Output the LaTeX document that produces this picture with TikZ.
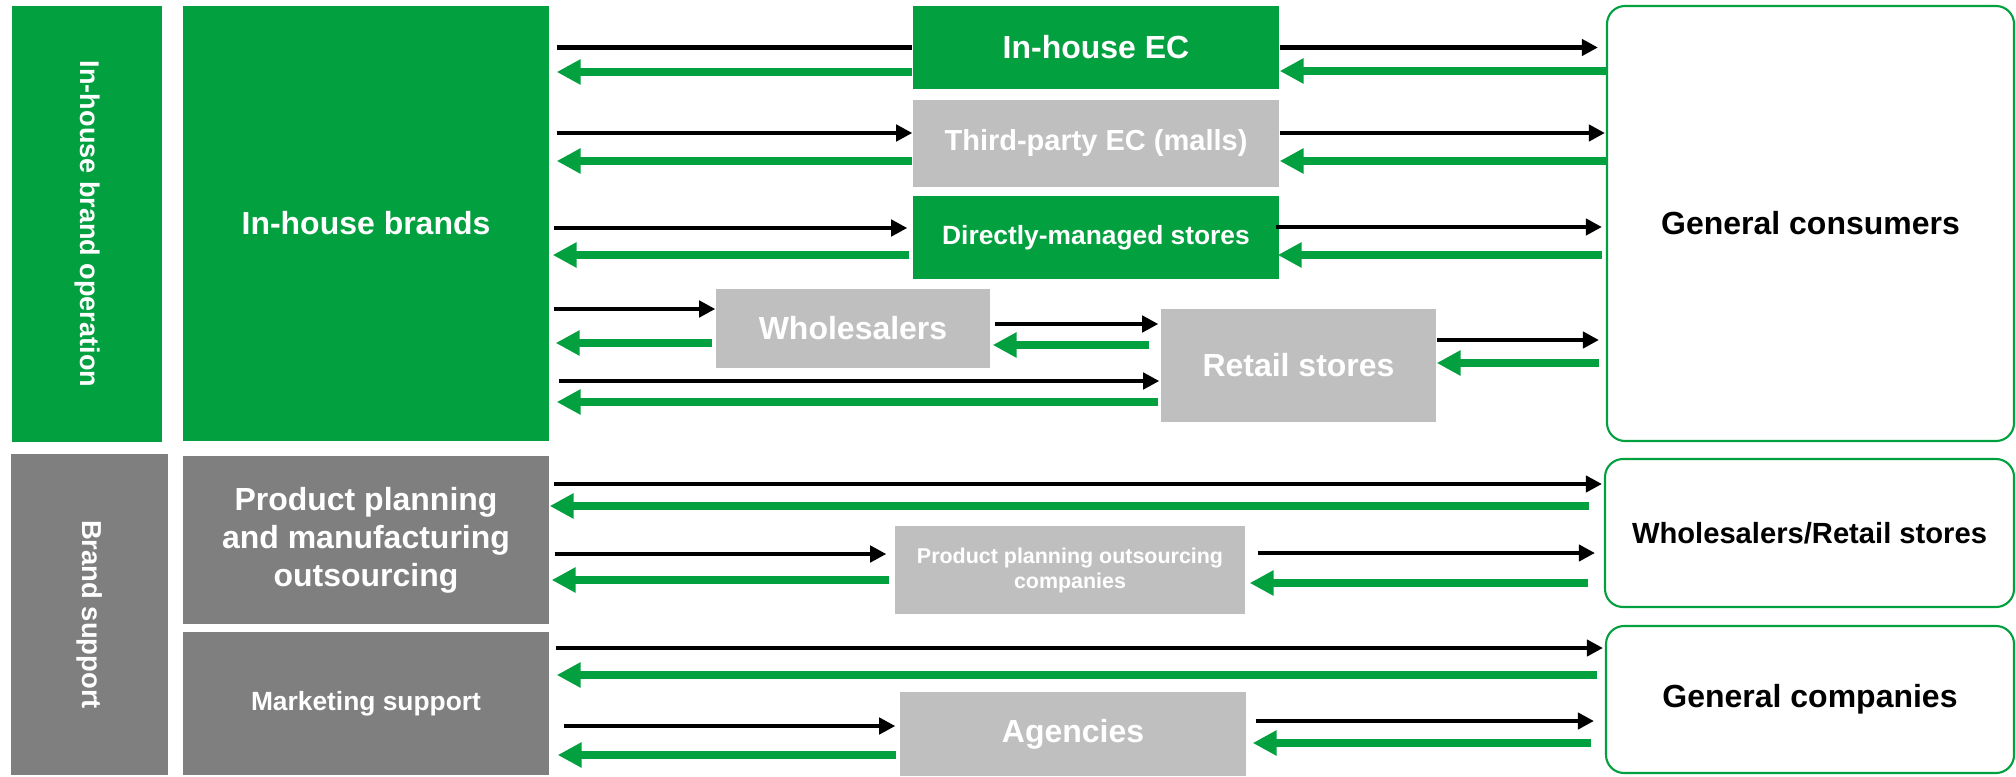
\documentclass[tikz,border=0pt]{standalone}
\usepackage{fontspec}
\setmainfont{Liberation Sans}
\usetikzlibrary{arrows.meta,calc,positioning}
\definecolor{bgreen}{RGB}{3,160,64}
\definecolor{dgray}{RGB}{127,127,127}
\definecolor{lgray}{RGB}{191,191,191}
\newcommand{\fs}[2]{\bfseries\fontsize{#1}{#2}\selectfont}

\begin{document}
\begin{tikzpicture}
  [box/.style={rectangle,inner sep=0pt,text=white,align=center,font=\fs{9.1}{11}},
  greenbox/.style={box,fill=bgreen},
  darkbox/.style={box,fill=dgray},
  greybox/.style={box,fill=lgray},
  endbox/.style={rectangle,rounded corners=0.18cm,draw=bgreen,line width=0.6pt,inner sep=0pt,align=center,font=\fs{9.1}{11}},
  blk/.style={draw=black,line width=1.15pt,-{Triangle[length=4.6pt,width=4.6pt]}},
  grn/.style={draw=bgreen,line width=2.1pt,-{Triangle[length=6.8pt,width=6.8pt]}}]
  \useasboundingbox (0,0) rectangle (20.16,7.76);

  \node[greenbox,rotate=-90,minimum width=4.36cm,minimum height=1.505cm,font=\fs{7.7}{9}] (ops) at (0.87,5.52) {In-house brand operation};
  \node[greenbox,minimum width=3.66cm,minimum height=4.35cm] (brands) at (3.66,5.525) {In-house brands};

  \node[greenbox,minimum width=3.66cm,minimum height=0.83cm] (ec) at (10.96,7.285) {In-house EC};
  \node[greybox,minimum width=3.66cm,minimum height=0.87cm,font=\fs{8.25}{10}] (mall) at (10.96,6.325) {Third-party EC (malls)};
  \node[greenbox,minimum width=3.66cm,minimum height=0.83cm,font=\fs{7.5}{9}] (direct) at (10.96,5.385) {Directly-managed stores};
  \node[greybox,minimum width=2.74cm,minimum height=0.79cm] (whole) at (8.53,4.475) {Wholesalers};
  \node[greybox,minimum width=2.75cm,minimum height=1.13cm] (retail) at (12.985,4.105) {Retail stores};

  \node[endbox,minimum width=4.07cm,minimum height=4.35cm] (consumers) at (18.105,5.525) {General consumers};

  \node[darkbox,rotate=-90,minimum width=3.21cm,minimum height=1.57cm,font=\fs{7.8}{9}] (support) at (0.895,1.615) {Brand support};
  \node[darkbox,minimum width=3.66cm,minimum height=1.68cm,font=\fs{9.1}{10.8}] (planning) at (3.66,2.36) {Product planning\\and manufacturing\\outsourcing};
  \node[darkbox,minimum width=3.66cm,minimum height=1.43cm,font=\fs{7.5}{9}] (marketing) at (3.66,0.725) {Marketing support};

  \node[greybox,minimum width=3.5cm,minimum height=0.88cm,font=\fs{6.1}{7.1}] (ppoc) at (10.70,2.06) {Product planning outsourcing\\companies};
  \node[greybox,minimum width=3.46cm,minimum height=0.84cm] (agencies) at (10.73,0.42) {Agencies};

  \node[endbox,minimum width=4.09cm,minimum height=1.48cm,font=\fs{8.3}{10}] (wr) at (18.095,2.43) {Wholesalers/Retail stores};
  \node[endbox,minimum width=4.08cm,minimum height=1.47cm] (companies) at (18.1,0.765) {General companies};

  \draw[blk,-] ($(brands.east |- ec.west)+(0.07,0)$) -- (ec.west);
  \draw[grn] ($(ec.west)+(0,-0.245)$) -- ($(brands.east |- ec.west)+(0.07,-0.245)$);
  \draw[blk] (ec.east) -- ($(consumers.west |- ec.east)+(-0.08,0)$);
  \draw[grn] ($(consumers.west |- ec.east)+(0,-0.235)$) -- ($(ec.east)+(0,-0.235)$);

  \draw[blk] ($(brands.east |- mall.west)+(0.07,0.105)$) -- ($(mall.west)+(0,0.105)$);
  \draw[grn] ($(mall.west)+(0,-0.175)$) -- ($(brands.east |- mall.west)+(0.07,-0.175)$);
  \draw[blk] ($(mall.east)+(0,0.105)$) -- ($(consumers.west |- mall.east)+(-0.01,0.105)$);
  \draw[grn] ($(consumers.west |- mall.east)+(0,-0.175)$) -- ($(mall.east)+(0,-0.175)$);

  \draw[blk] ($(brands.east |- direct.west)+(0.04,0.095)$) -- ($(direct.west)+(-0.05,0.095)$);
  \draw[grn] ($(direct.west)+(-0.03,-0.175)$) -- ($(brands.east |- direct.west)+(0.03,-0.175)$);
  \draw[blk] ($(direct.east)+(-0.04,0.105)$) -- ($(consumers.west |- direct.east)+(-0.04,0.105)$);
  \draw[grn] ($(consumers.west |- direct.east)+(-0.04,-0.175)$) -- ($(direct.east)+(-0.02,-0.175)$);

  \draw[blk] ($(brands.east |- whole.west)+(0.04,0.195)$) -- ($(whole.west)+(0,0.195)$);
  \draw[grn] ($(whole.west)+(-0.03,-0.145)$) -- ($(brands.east |- whole.west)+(0.06,-0.145)$);
  \draw[blk] ($(whole.east)+(0.04,0.045)$) -- ($(whole.east -| retail.west)+(-0.02,0.045)$);
  \draw[grn] ($(whole.east -| retail.west)+(-0.11,-0.165)$) -- ($(whole.east)+(0.02,-0.165)$);

  \draw[blk] ($(brands.east |- retail.west)+(0.09,-0.155)$) -- ($(retail.west)+(-0.01,-0.155)$);
  \draw[grn] ($(retail.west)+(-0.02,-0.365)$) -- ($(brands.east |- retail.west)+(0.07,-0.365)$);
  \draw[blk] ($(retail.east)+(0,0.255)$) -- ($(consumers.west |- retail.east)+(-0.07,0.255)$);
  \draw[grn] ($(consumers.west |- retail.east)+(-0.07,0.025)$) -- ($(retail.east)+(0,0.025)$);

  \draw[blk] ($(planning.east)+(0.04,0.56)$) -- ($(planning.east -| wr.west)+(-0.02,0.56)$);
  \draw[grn] ($(planning.east -| wr.west)+(-0.15,0.34)$) -- ($(planning.east)+(0,0.34)$);

  \draw[blk] ($(planning.east |- ppoc.west)+(0.05,0.16)$) -- ($(ppoc.west)+(-0.08,0.16)$);
  \draw[grn] ($(ppoc.west)+(-0.05,-0.10)$) -- ($(planning.east |- ppoc.west)+(0.02,-0.10)$);
  \draw[blk] ($(ppoc.east)+(0.12,0.17)$) -- ($(ppoc.east -| wr.west)+(-0.09,0.17)$);
  \draw[grn] ($(ppoc.east -| wr.west)+(-0.16,-0.13)$) -- ($(ppoc.east)+(0.04,-0.13)$);

  \draw[blk] ($(marketing.east)+(0.06,0.555)$) -- ($(marketing.east -| companies.west)+(-0.02,0.555)$);
  \draw[grn] ($(marketing.east -| companies.west)+(-0.08,0.285)$) -- ($(marketing.east)+(0.07,0.285)$);

  \draw[blk] ($(marketing.east |- agencies.west)+(0.14,0.08)$) -- ($(agencies.west)+(-0.04,0.08)$);
  \draw[grn] ($(agencies.west)+(-0.03,-0.21)$) -- ($(marketing.east |- agencies.west)+(0.08,-0.21)$);
  \draw[blk] ($(agencies.east)+(0.09,0.13)$) -- ($(agencies.east -| companies.west)+(-0.11,0.13)$);
  \draw[grn] ($(agencies.east -| companies.west)+(-0.14,-0.09)$) -- ($(agencies.east)+(0.06,-0.09)$);
\end{tikzpicture}
\end{document}
